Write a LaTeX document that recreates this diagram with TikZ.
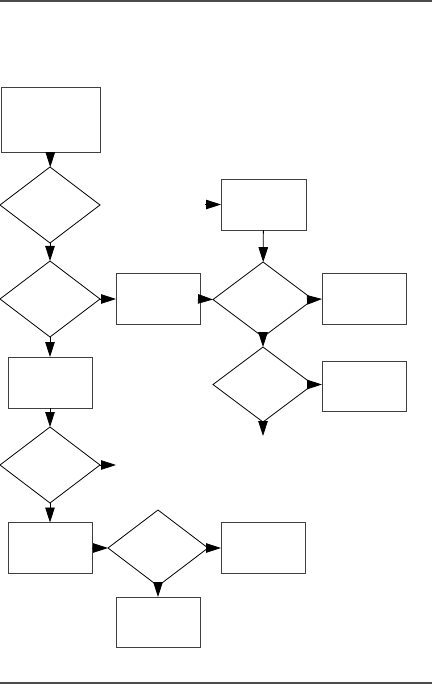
\documentclass[tikz,border=0pt]{standalone}
\usetikzlibrary{shapes.geometric, arrows.meta}

\tikzset{
  proc/.style={draw=black!75, line width=0.9pt, fill=white, rectangle,
    minimum width=84, minimum height=51, inner sep=0pt, outer sep=0pt},
  test/.style={draw, line width=0.8pt, fill=white, diamond,
    minimum width=100, minimum height=76, inner sep=0pt, outer sep=0pt},
  flow/.style={line width=0.8pt, -{Triangle[length=15pt,width=9.5pt]}},
  rule/.style={line width=1.5pt, black!70}
}

\begin{document}
\begin{tikzpicture}[x=1pt,y=-1pt]
\useasboundingbox (0,0) rectangle (432,685);
\draw[rule] (0,1) -- (432,1);
\draw[rule] (0,683) -- (432,683);

% left column
\node[proc, minimum width=99, minimum height=65] (start) at (50.5,119.5) {};
\node[test] (q1) at (50,205) {};
\node[test] (q2) at (50,299) {};
\node[proc] (s1) at (158,299) {};
\node[proc] (s2) at (50,382.5) {};
\node[test] (q3) at (50,465) {};
\node[proc] (s3) at (50,548) {};
\node[test] (q4) at (158,548) {};
\node[proc, minimum height=50] (s4) at (158,622) {};
\node[proc] (s5) at (263,548) {};

% right column
\node[proc, minimum width=85] (top) at (263.5,204.5) {};
\node[test, minimum height=75] (q5) at (263,299.5) {};
\node[proc] (r1) at (364,299) {};
\node[test, minimum height=75] (q6) at (263,384.5) {};
\node[proc, minimum height=50] (r2) at (364,386) {};

\coordinate (inT) at (205,204.5);
\coordinate (outQ3) at (116,465);
\coordinate (outQ6) at (263,436);

\draw[flow] (start) -- (q1);
\draw[flow] (q1) -- (q2);
\draw[flow] (q2.east) -- (s1.west);
\draw[flow] (q2) -- (s2);
\draw[flow] (s2) -- (q3);
\draw[flow] (q3.east) -- (outQ3);
\draw[flow] (q3) -- (s3);
\draw[flow] (s3.east) -- (q4.west);
\draw[flow] (q4) -- (s4);
\draw[flow] (q4.east) -- (s5.west);

\draw[flow] (inT) -- (top.west);
\draw[flow] (top) -- (q5);
\draw[flow] (s1.east) -- (q5.west);
\draw[flow] (q5.east) -- (r1.west);
\draw[flow] (q5) -- (q6);
\draw[flow] (q6.east) -- (r2.west |- q6.east);
\draw[flow] (q6.south) -- (outQ6);
\end{tikzpicture}
\end{document}
